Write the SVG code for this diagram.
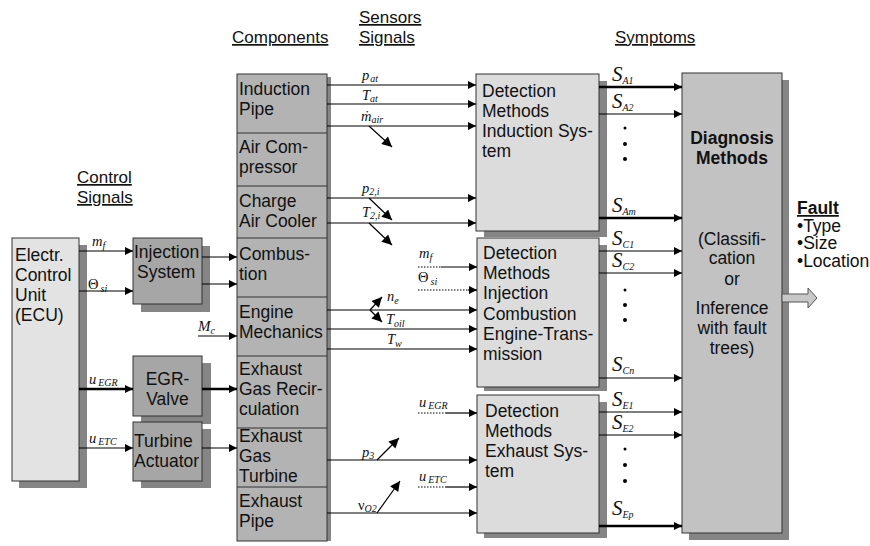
<svg xmlns="http://www.w3.org/2000/svg" width="870" height="546" viewBox="0 0 870 546">
<style>
.t{font-family:"Liberation Sans",Arial,sans-serif;font-size:17.5px;fill:#111}
.h{font-family:"Liberation Sans",Arial,sans-serif;font-size:17px;fill:#111;text-decoration:underline}
.m{font-family:"Liberation Serif","Times New Roman",serif;font-style:italic;font-size:14.5px;fill:#111}
.s{font-family:"Liberation Serif","Times New Roman",serif;font-style:italic;font-size:10px}
.S{font-family:"Liberation Serif","Times New Roman",serif;font-style:italic;font-size:21px;fill:#111}
.box{stroke:#333;stroke-width:1}
.sh{fill:#858585}
.ln{stroke:#000;stroke-width:1.2;fill:none}
.thk{stroke:#000;stroke-width:2.6;fill:none}
.dot{stroke:#000;stroke-width:1;stroke-dasharray:1.5 1.5;fill:none}
</style>
<defs>
<marker id="ah" viewBox="0 0 10 10" refX="10" refY="5" markerWidth="9" markerHeight="8" orient="auto" markerUnits="userSpaceOnUse"><path d="M0,0 L10,5 L0,10 z" fill="#000"/></marker>
<marker id="ah2" viewBox="0 0 10 10" refX="10" refY="5" markerWidth="12" markerHeight="10" orient="auto" markerUnits="userSpaceOnUse"><path d="M0,0 L10,5 L0,10 z" fill="#000"/></marker>
</defs>
<rect width="870" height="546" fill="#fff"/>

<!-- headers -->
<text class="h" x="232" y="43">Components</text>
<text class="h" x="359" y="23">Sensors</text>
<text class="h" x="359" y="43">Signals</text>
<text class="h" x="615" y="43">Symptoms</text>
<text class="h" x="77" y="183">Control</text>
<text class="h" x="77" y="203">Signals</text>

<!-- ECU -->
<g id="ecu">
<rect class="sh" x="19" y="245" width="68" height="243"/>
<rect class="box" x="12" y="238" width="67" height="243" fill="#e3e3e3"/>
<text class="t" x="15" y="261">Electr.</text>
<text class="t" x="15" y="281">Control</text>
<text class="t" x="15" y="301">Unit</text>
<text class="t" x="15" y="321">(ECU)</text>
</g>

<g id="injection">
<rect class="sh" x="141" y="246" width="69" height="66"/>
<rect class="box" x="133" y="238" width="69" height="66" fill="#a6a6a6"/>
<text class="t" x="134" y="258">Injection</text>
<text class="t" x="137" y="278">System</text>
</g>
<g id="egr">
<rect class="sh" x="141" y="363" width="70" height="61"/>
<rect class="box" x="133" y="356" width="69" height="60" fill="#a6a6a6"/>
<text class="t" x="167.5" y="385" text-anchor="middle">EGR-</text>
<text class="t" x="167.5" y="405" text-anchor="middle">Valve</text>
</g>
<g id="turbine">
<rect class="sh" x="141" y="429" width="70" height="59"/>
<rect class="box" x="133" y="422" width="69" height="59" fill="#a6a6a6"/>
<text class="t" x="134" y="447">Turbine</text>
<text class="t" x="134" y="467">Actuator</text>
</g>

<!-- components -->
<g id="components">
<rect class="sh" x="327" y="77" width="4" height="464"/>
<rect class="box" x="237" y="74" width="90" height="467" fill="#b3b3b3"/>
<path d="M237,133H327M237,186H327M237,238H327M237,297H327M237,356H327M237,428H327M237,487H327" stroke="#333" stroke-width="1"/>
<text class="t" x="239" y="95">Induction</text>
<text class="t" x="239" y="115">Pipe</text>
<text class="t" x="239" y="153">Air Com-</text>
<text class="t" x="239" y="173">pressor</text>
<text class="t" x="239" y="207">Charge</text>
<text class="t" x="239" y="227">Air Cooler</text>
<text class="t" x="239" y="260">Combus-</text>
<text class="t" x="239" y="280">tion</text>
<text class="t" x="239" y="318">Engine</text>
<text class="t" x="239" y="338">Mechanics</text>
<text class="t" x="239" y="375">Exhaust</text>
<text class="t" x="239" y="395">Gas Recir-</text>
<text class="t" x="239" y="415">culation</text>
<text class="t" x="239" y="442">Exhaust</text>
<text class="t" x="239" y="462">Gas</text>
<text class="t" x="239" y="482">Turbine</text>
<text class="t" x="239" y="507">Exhaust</text>
<text class="t" x="239" y="527">Pipe</text>
</g>

<!-- detection boxes -->
<g id="det1">
<rect class="sh" x="484" y="81" width="123" height="156"/>
<rect class="box" x="476" y="74" width="123" height="157" fill="#dcdcdc"/>
<text class="t" x="482" y="97">Detection</text>
<text class="t" x="482" y="117">Methods</text>
<text class="t" x="482" y="137">Induction Sys-</text>
<text class="t" x="482" y="157">tem</text>
</g>
<g id="det2">
<rect class="sh" x="484" y="245" width="123" height="146"/>
<rect class="box" x="477" y="238" width="122" height="149" fill="#dcdcdc"/>
<text class="t" x="483" y="259">Detection</text>
<text class="t" x="483" y="279">Methods</text>
<text class="t" x="483" y="299">Injection</text>
<text class="t" x="483" y="320">Combustion</text>
<text class="t" x="483" y="340">Engine-Trans-</text>
<text class="t" x="483" y="360">mission</text>
</g>
<g id="det3">
<rect class="sh" x="484" y="402" width="123" height="136"/>
<rect class="box" x="477" y="395" width="122" height="138" fill="#dcdcdc"/>
<text class="t" x="485" y="417">Detection</text>
<text class="t" x="485" y="437">Methods</text>
<text class="t" x="485" y="457">Exhaust Sys-</text>
<text class="t" x="485" y="477">tem</text>
</g>

<!-- diagnosis -->
<g id="diagnosis">
<rect class="sh" x="689" y="80" width="100" height="460"/>
<rect class="box" x="682" y="73" width="100" height="460" fill="#c2c2c2"/>
<text class="t" x="732" y="144" text-anchor="middle" font-weight="bold" font-size="18">Diagnosis</text>
<text class="t" x="732" y="164" text-anchor="middle" font-weight="bold" font-size="18">Methods</text>
<text class="t" x="732" y="245" text-anchor="middle">(Classifi-</text>
<text class="t" x="732" y="264" text-anchor="middle">cation</text>
<text class="t" x="732" y="285" text-anchor="middle">or</text>
<text class="t" x="732" y="314" text-anchor="middle">Inference</text>
<text class="t" x="732" y="334" text-anchor="middle">with fault</text>
<text class="t" x="732" y="354" text-anchor="middle">trees)</text>
</g>

<g id="fault">
<path d="M782,294H808V288L817,298L808,308V302H782Z" fill="#c8c8c8" stroke="#555" stroke-width="1"/>
<text class="t" x="797" y="214" font-weight="bold" text-decoration="underline" font-size="15">Fault</text>
<text class="t" x="797" y="231.5" font-size="15">•Type</text>
<text class="t" x="797" y="249" font-size="15">•Size</text>
<text class="t" x="797" y="266.5" font-size="15">•Location</text>
</g>

<!-- connectors -->
<g id="connectors">
<path class="ln" d="M79,251H133" marker-end="url(#ah)"/>
<path class="ln" d="M79,291H133" marker-end="url(#ah)"/>
<path class="ln" d="M202,257H237" marker-end="url(#ah)"/>
<path class="ln" d="M202,284H237" marker-end="url(#ah)"/>
<path class="ln" d="M198,336H237" marker-end="url(#ah)"/>
<path class="thk" d="M79,389H133" marker-end="url(#ah)"/>
<path class="thk" d="M202,389H237" marker-end="url(#ah)"/>
<path class="ln" d="M79,448H133" marker-end="url(#ah)"/>
<path class="ln" d="M202,448H237" marker-end="url(#ah)"/>

<path class="ln" d="M327,85H476" marker-end="url(#ah)"/>
<path class="ln" d="M327,104H476" marker-end="url(#ah)"/>
<path class="ln" d="M327,126H476" marker-end="url(#ah)"/>
<path class="ln" d="M327,198H476" marker-end="url(#ah)"/>
<path class="ln" d="M327,223H476" marker-end="url(#ah)"/>
<path class="ln" d="M369,126L392,147" marker-end="url(#ah2)"/>
<path class="ln" d="M369,198L392,220" marker-end="url(#ah2)"/>
<path class="ln" d="M369,223L392,245" marker-end="url(#ah2)"/>

<path class="dot" d="M418,267H441"/>
<path class="ln" d="M441,267H477" marker-end="url(#ah)"/>
<path class="dot" d="M418,290H469"/>
<path class="ln" d="M468,290H477" marker-end="url(#ah)"/>
<path class="ln" d="M327,310H477" marker-end="url(#ah)"/>
<path class="ln" d="M327,329H477" marker-end="url(#ah)"/>
<path class="ln" d="M327,349H477" marker-end="url(#ah)"/>
<path class="ln" d="M370,310L382,297" marker-end="url(#ah2)"/>
<path class="ln" d="M370,310L382,322" marker-end="url(#ah2)"/>

<path class="dot" d="M418,413H446"/>
<path class="ln" d="M446,413H477" marker-end="url(#ah)"/>
<path class="ln" d="M327,460H477" marker-end="url(#ah)"/>
<path class="ln" d="M377,460L399,438" marker-end="url(#ah2)"/>
<path class="dot" d="M418,487H446"/>
<path class="ln" d="M446,487H477" marker-end="url(#ah)"/>
<path class="ln" d="M327,513H477" marker-end="url(#ah)"/>
<path class="ln" d="M377,513L400,481" marker-end="url(#ah2)"/>

<path class="thk" d="M599,87H682" marker-end="url(#ah)"/>
<path class="ln" d="M599,114H682" marker-end="url(#ah)"/>
<path class="thk" d="M599,218H682" marker-end="url(#ah)"/>
<path class="ln" d="M599,251H682" marker-end="url(#ah)"/>
<path class="ln" d="M599,273H682" marker-end="url(#ah)"/>
<path class="ln" d="M599,378H682" marker-end="url(#ah)"/>
<path class="ln" d="M599,412H682" marker-end="url(#ah)"/>
<path class="ln" d="M599,435H682" marker-end="url(#ah)"/>
<path class="thk" d="M599,526H682" marker-end="url(#ah)"/>
</g>

<!-- dots -->
<g fill="#000">
<circle cx="625" cy="128" r="1.5"/><circle cx="625" cy="144" r="2"/><circle cx="625" cy="159" r="2"/>
<circle cx="625" cy="290" r="1.5"/><circle cx="625" cy="305" r="2"/><circle cx="625" cy="320" r="2"/>
<circle cx="625" cy="449" r="1.5"/><circle cx="625" cy="465" r="2"/><circle cx="625" cy="481" r="2"/>
</g>

<!-- signal labels -->
<g class="m">
<text x="92" y="246">m<tspan class="s" dy="3">f</tspan></text>
<text x="88" y="289" font-style="normal">Θ<tspan class="s" dx="2" dy="3">si</tspan></text>
<text x="198" y="331" font-size="15">M<tspan class="s" dy="3">c</tspan></text>
<text x="89" y="384">u<tspan class="s" dx="2" dy="2">EGR</tspan></text>
<text x="89" y="443">u<tspan class="s" dx="2" dy="2">ETC</tspan></text>

<text x="362" y="80">p<tspan class="s" dx="1" dy="2">at</tspan></text>
<text x="362" y="100">T<tspan class="s" dy="2">at</tspan></text>
<text x="361" y="121">ṁ<tspan class="s" dy="2">air</tspan></text>
<text x="362" y="193">p<tspan class="s" dy="2" font-style="normal">2,i</tspan></text>
<text x="362" y="217">T<tspan class="s" dy="2" font-style="normal">2,i</tspan></text>

<text x="419" y="258">m<tspan class="s" dy="3">f</tspan></text>
<text x="418" y="282" font-style="normal">Θ<tspan class="s" dx="2" dy="3">si</tspan></text>
<text x="387" y="301">n<tspan class="s" dy="3">e</tspan></text>
<text x="386" y="324">T<tspan class="s" dy="3">oil</tspan></text>
<text x="387" y="344">T<tspan class="s" dy="3">w</tspan></text>

<text x="419" y="407">u<tspan class="s" dx="2" dy="2">EGR</tspan></text>
<text x="362" y="457">p<tspan class="s" dy="2">3</tspan></text>
<text x="419" y="481">u<tspan class="s" dx="2" dy="2">ETC</tspan></text>
<text x="358" y="510" font-style="normal">ν<tspan class="s" dy="2">O2</tspan></text>
</g>

<g class="S">
<text x="612" y="81">S<tspan class="s" font-size="11" dy="3">A1</tspan></text>
<text x="612" y="108">S<tspan class="s" font-size="11" dy="3">A2</tspan></text>
<text x="612" y="212">S<tspan class="s" font-size="11" dy="3">Am</tspan></text>
<text x="612" y="245">S<tspan class="s" font-size="11" dy="3">C1</tspan></text>
<text x="612" y="267">S<tspan class="s" font-size="11" dy="3">C2</tspan></text>
<text x="612" y="371">S<tspan class="s" font-size="11" dy="3">Cn</tspan></text>
<text x="612" y="406">S<tspan class="s" font-size="11" dy="3">E1</tspan></text>
<text x="612" y="429">S<tspan class="s" font-size="11" dy="3">E2</tspan></text>
<text x="612" y="515">S<tspan class="s" font-size="11" dy="3">Ep</tspan></text>
</g>
</svg>
